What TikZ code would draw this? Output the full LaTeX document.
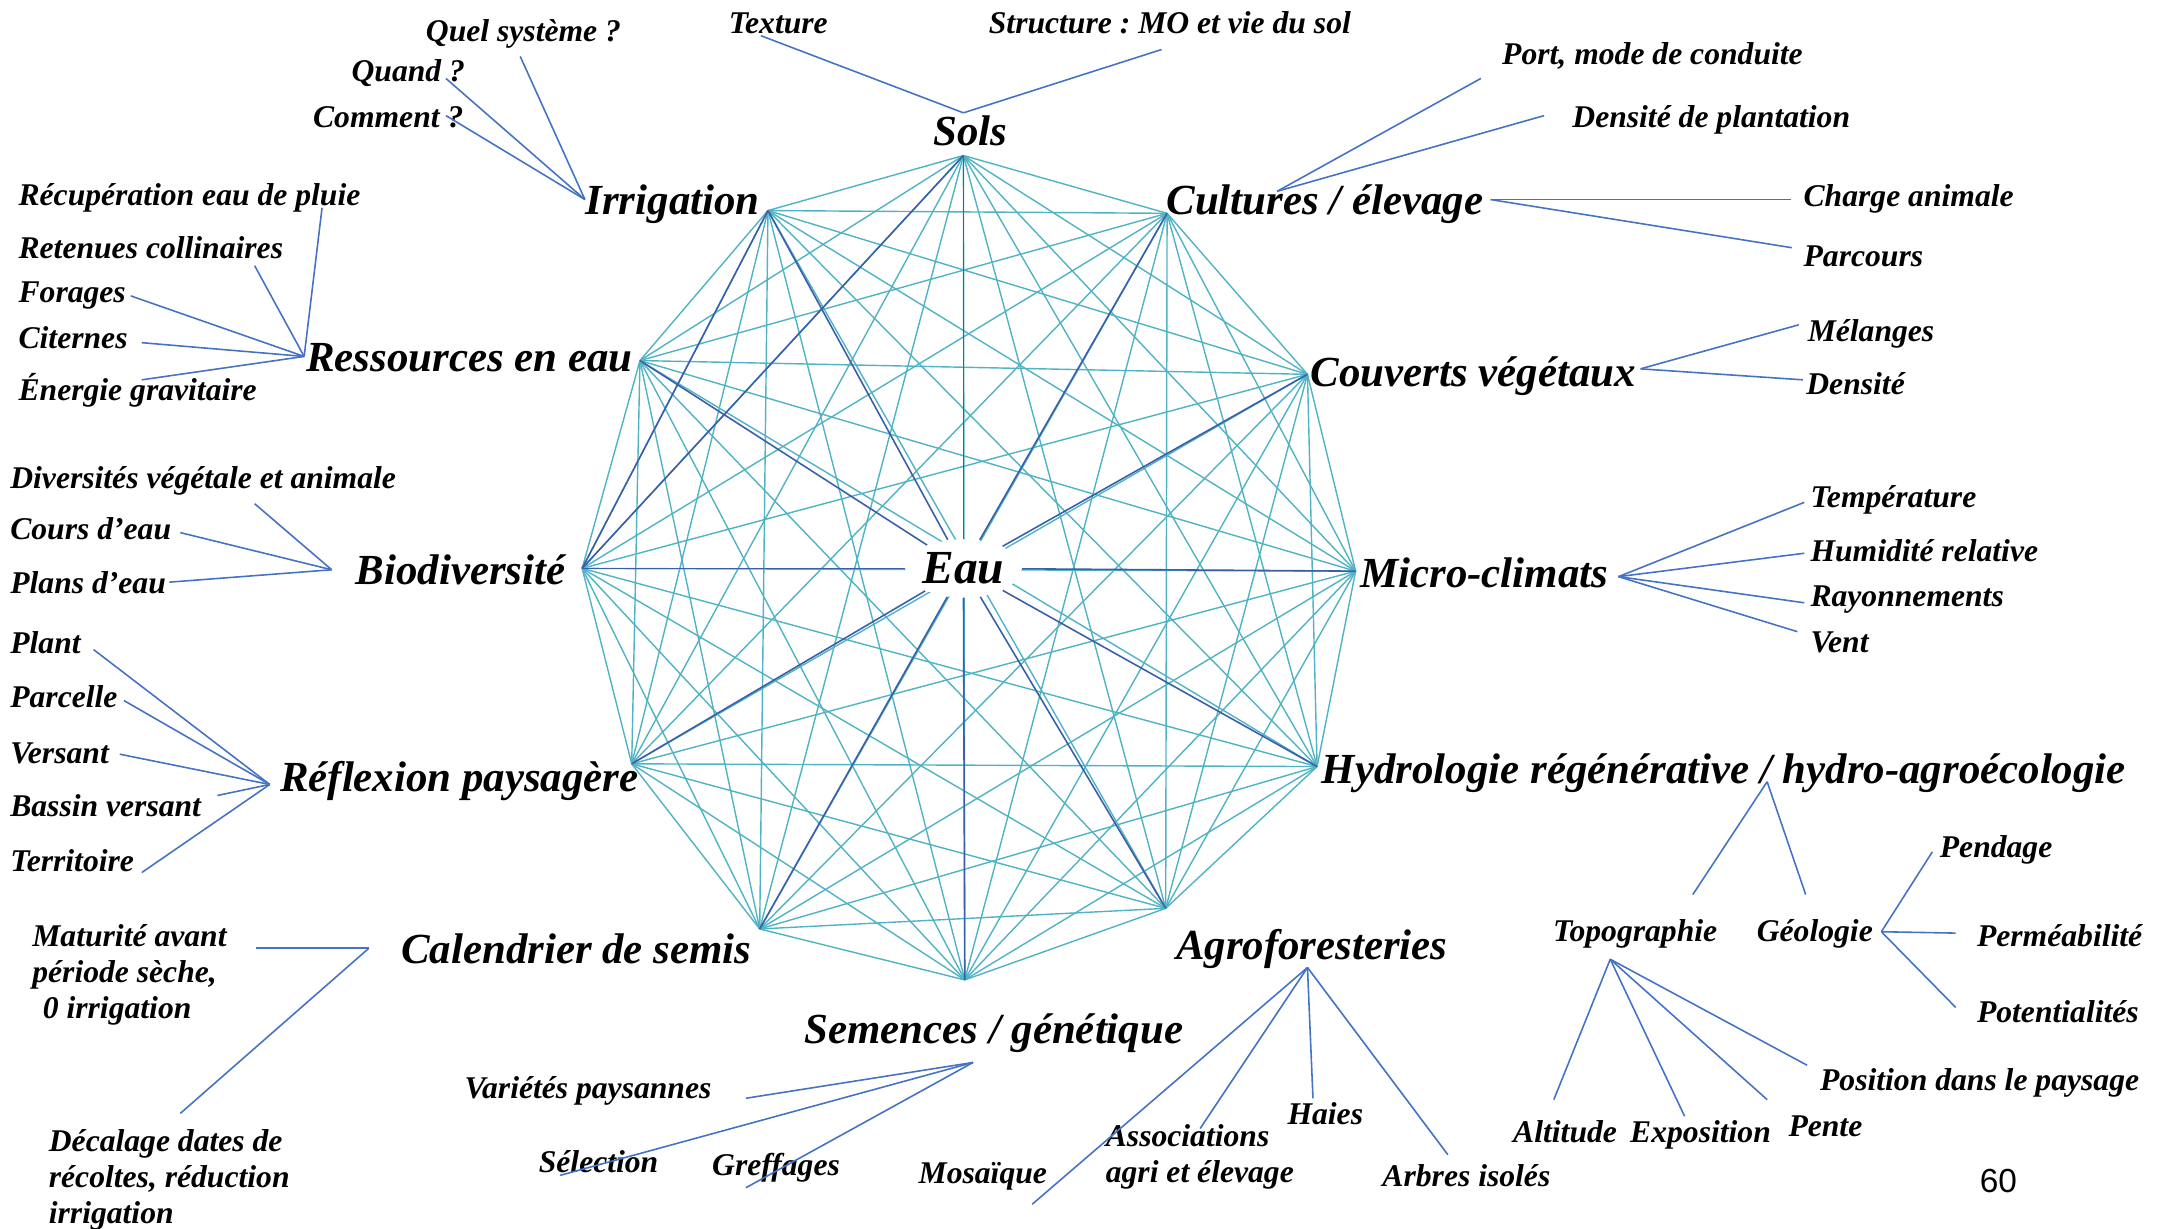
\documentclass[tikz,border=0pt]{standalone}
\usepackage{fontspec}
\setmainfont{Liberation Serif}
\newfontfamily\pagefont{Liberation Sans}
\usetikzlibrary{shapes.geometric}
\frenchspacing

\definecolor{webcol}{HTML}{4FB3C4}
\definecolor{spokecol}{HTML}{3A5FAA}
\definecolor{twigcol}{HTML}{4472C4}

\begin{document}
\begin{tikzpicture}[x=0.13763mm, y=-0.13763mm,
    theme/.style={font=\fontsize{12.2}{14}\selectfont\bfseries\itshape, inner sep=0pt, anchor=base west},
    leaf/.style={font=\fontsize{9}{10.2}\selectfont\bfseries\itshape, inner sep=0pt, anchor=base west, align=left},
    web/.style={draw=webcol, line width=0.4pt},
    spoke/.style={draw=spokecol, line width=0.45pt},
    twig/.style={draw=twigcol, line width=0.45pt}]

\useasboundingbox (0,0) rectangle (1568,893);

% Vertices
\foreach \n/\x/\y in {sols/700/113, cult/848/155, couv/950/272, micro/985/415,
    hydro/957/557, agro/847/660, sem/701/712, cal/552/675, refl/459/555,
    bio/423/413, res/465/262, irr/558/153}
  \coordinate (\n) at (\x,\y);

% Edges: every vertex to every other one
\foreach \a [count=\i] in {sols,cult,couv,micro,hydro,agro,sem,cal,refl,bio,res,irr}{
  \foreach \b [count=\j] in {sols,cult,couv,micro,hydro,agro,sem,cal,refl,bio,res,irr}{
    \ifnum\j>\i \draw[web] (\a) -- (\b); \fi
  }
}
\draw[spoke] (bio) -- (irr);
\draw[spoke] (bio) -- (sols);

% Centre
\node[ellipse, fill=white, inner sep=0pt, minimum width=11.6mm, minimum height=5.8mm,
      font=\fontsize{13.5}{15}\selectfont\bfseries\itshape] (eau) at (700,413) {Eau};
\foreach \n in {sols,cult,couv,micro,hydro,agro,sem,cal,refl,bio,res,irr}
  \draw[spoke] (eau) -- (\n);

% Themes
\node[theme, anchor=base] (t-sols) at (705,106) {Sols};
\node[theme] (t-irr) at (425,156) {Irrigation};
\node[theme] (t-cult) at (847,156) {Cultures / élevage};
\node[theme] (t-res) at (222,270) {Ressources en eau};
\node[theme] (t-couv) at (952,281) {Couverts végétaux};
\node[theme] (t-bio) at (258,425) {Biodiversité};
\node[theme] (t-micro) at (988,427) {Micro-climats};
\node[theme] (t-refl) at (203,575) {Réflexion paysagère};
\node[theme] (t-hydro) at (960,569) {Hydrologie régénérative / hydro-agroécologie};
\node[theme] (t-cal) at (291,700) {Calendrier de semis};
\node[theme] (t-agro) at (854,697) {Agroforesteries};
\node[theme] (t-sem) at (584,758) {Semences / génétique};

% Details (multi-line ones sit on their last line)
\node[leaf] (quel) at (309,30) {Quel système ?};
\node[leaf] (quand) at (255,59) {Quand ?};
\node[leaf] (comment) at (227,93) {Comment ?};
\node[leaf] (recup) at (13,149) {Récupération eau de pluie};
\node[leaf] (retenues) at (13,188) {Retenues collinaires};
\node[leaf] (forages) at (13,220) {Forages};
\node[leaf] (citernes) at (13,253) {Citernes};
\node[leaf] (energie) at (13,291) {Énergie gravitaire};
\node[leaf] (texture) at (529,24) {Texture};
\node[leaf] (structure) at (718,24) {Structure : MO et vie du sol};
\node[leaf] (port) at (1091,47) {Port, mode de conduite};
\node[leaf] (densplant) at (1142,93) {Densité de plantation};
\node[leaf] (charge) at (1310,150) {Charge animale};
\node[leaf] (parcours) at (1310,194) {Parcours};
\node[leaf] (melanges) at (1313,248) {Mélanges};
\node[leaf] (densite) at (1312,287) {Densité};
\node[leaf] (temp) at (1315,369) {Température};
\node[leaf] (humid) at (1315,408) {Humidité relative};
\node[leaf] (rayon) at (1315,441) {Rayonnements};
\node[leaf] (vent) at (1315,474) {Vent};
\node[leaf] (diversites) at (7,355) {Diversités végétale et animale};
\node[leaf] (cours) at (7,392) {Cours d’eau};
\node[leaf] (plans) at (7,431) {Plans d’eau};
\node[leaf] (plant) at (7,475) {Plant};
\node[leaf] (parcelle) at (7,514) {Parcelle};
\node[leaf] (versant) at (7,555) {Versant};
\node[leaf] (bassin) at (7,593) {Bassin versant};
\node[leaf] (territoire) at (7,633) {Territoire};
\node[leaf] (maturite) at (23,740) {Maturité avant\\période sèche,\\\hspace*{3pt}0 irrigation};
\node[leaf] (decalage) at (35,889) {Décalage dates de\\récoltes, réduction\\irrigation};
\node[leaf] (varietes) at (337,798) {Variétés paysannes};
\node[leaf] (selection) at (391,852) {Sélection};
\node[leaf] (greffages) at (517,854) {Greffages};
\node[leaf] (mosaique) at (667,860) {Mosaïque};
\node[leaf] (assoc) at (803,859) {Associations\\agri et élevage};
\node[leaf] (haies) at (935,817) {Haies};
\node[leaf] (arbres) at (1004,862) {Arbres isolés};
\node[leaf] (topo) at (1128,684) {Topographie};
\node[leaf] (geo) at (1276,684) {Géologie};
\node[leaf] (pendage) at (1409,623) {Pendage};
\node[leaf] (permea) at (1436,688) {Perméabilité};
\node[leaf] (potent) at (1436,743) {Potentialités};
\node[leaf] (position) at (1322,792) {Position dans le paysage};
\node[leaf] (altitude) at (1099,830) {Altitude};
\node[leaf] (expo) at (1184,830) {Exposition};
\node[leaf] (pente) at (1299,826) {Pente};
\node[font=\pagefont\fontsize{9.5}{11}\selectfont, inner sep=0pt] (page) at (1452,858) {60};

% Hubs and line ends
\foreach \n/\x/\y in {irrhub/425/145, reshub/221/259, solshub/700/82, culthub/928/139,
    elevhub/1083/145, couvhub/1192/268, microhub/1176/419, hydrohub/1284/568,
    geohub/1367/677, topohub/1170/697, agrohub/950/703, semhub/707/772,
    calhub/268/689, biohub/241/414, reflhub/196/570}
  \coordinate (\n) at (\x,\y);
\foreach \n/\x/\y in {quel/378/41, quand/324/57, comment/324/84,
    recup/234/151, retenues/185/193, forages/95/215, citernes/103/249, energie/103/276,
    texture/553/26, structure/844/36, port/1076/57, densplant/1122/84,
    charge/1301/145, parcours/1302/180, melanges/1307/236, densite/1310/276,
    temp/1311/365, humid/1311/402, rayon/1311/438, vent/1306/459,
    topo/1230/650, geo/1312/650, pendage/1404/619, permea/1421/678, potent/1421/732,
    altitude/1129/799, expo/1224/811, pente/1284/799, position/1313/774,
    mosaique/750/875, assoc/872/820, haies/954/798, arbres/1052/839,
    varietes/542/798, selection/407/854, greffages/542/863,
    maturite/186/689, decalage/131/809,
    diversites/185/366, cours/131/387, plans/123/423,
    plant/68/472, parcelle/90/509, versant/87/548, bassin/158/578, territoire/103/634}
  \coordinate (\n-e) at (\x,\y);

% Connectors
\foreach \e in {quel,quand,comment} \draw[twig] (irrhub) -- (\e-e);
\foreach \e in {recup,retenues,forages,citernes,energie} \draw[twig] (reshub) -- (\e-e);
\foreach \e in {texture,structure} \draw[twig] (solshub) -- (\e-e);
\foreach \e in {port,densplant} \draw[twig] (culthub) -- (\e-e);
\foreach \e in {charge,parcours} \draw[twig] (elevhub) -- (\e-e);
\foreach \e in {melanges,densite} \draw[twig] (couvhub) -- (\e-e);
\foreach \e in {temp,humid,rayon,vent} \draw[twig] (microhub) -- (\e-e);
\foreach \e in {topo,geo} \draw[twig] (hydrohub) -- (\e-e);
\foreach \e in {pendage,permea,potent} \draw[twig] (geohub) -- (\e-e);
\foreach \e in {altitude,expo,pente,position} \draw[twig] (topohub) -- (\e-e);
\foreach \e in {mosaique,assoc,haies,arbres} \draw[twig] (agrohub) -- (\e-e);
\foreach \e in {varietes,selection,greffages} \draw[twig] (semhub) -- (\e-e);
\foreach \e in {maturite,decalage} \draw[twig] (calhub) -- (\e-e);
\foreach \e in {diversites,cours,plans} \draw[twig] (biohub) -- (\e-e);
\foreach \e in {plant,parcelle,versant,bassin,territoire} \draw[twig] (reflhub) -- (\e-e);
\end{tikzpicture}
\end{document}
